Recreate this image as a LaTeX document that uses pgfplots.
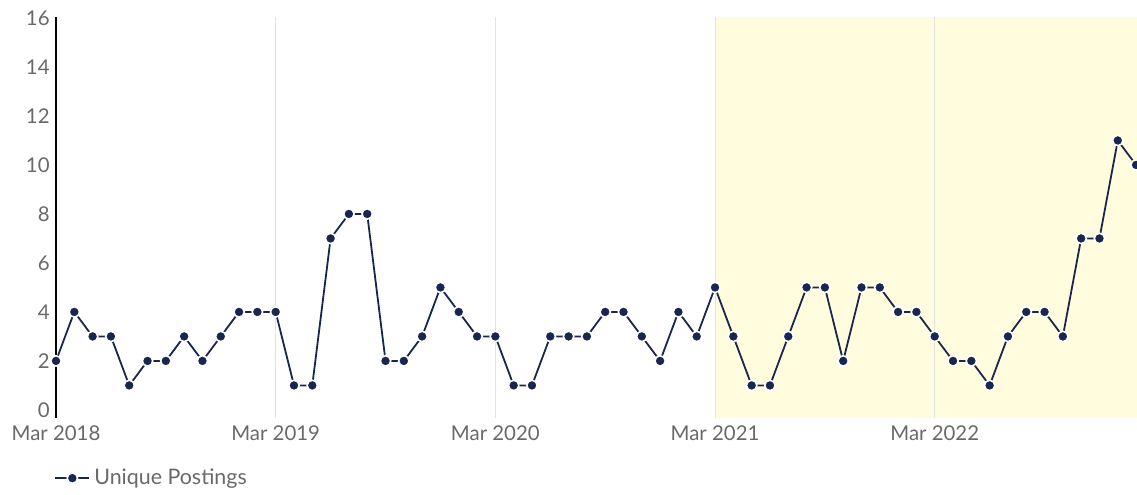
\documentclass[border=0pt]{standalone}
\usepackage{pgfplots}
\pgfplotsset{compat=1.18}
\usepackage{fontspec}
\setmainfont{Lato}
\definecolor{navy}{RGB}{24,38,80}
\definecolor{ticktext}{RGB}{105,105,105}
\definecolor{hl}{RGB}{255,253,222}
\definecolor{gridc}{RGB}{226,226,226}
\begin{document}
\begin{tikzpicture}
\begin{axis}[
  set layers,
  at={(0,0)}, anchor=south west,
  scale only axis,
  width=540.5pt, height=200.5pt,
  xmin=0, xmax=59.05, ymin=-0.33, ymax=16.04,
  axis lines*=left,
  x axis line style={draw=none},
  y axis line style={draw=black, line width=0.8pt},
  major tick length=0pt,
  xtick={0,12,24,36,48},
  xticklabels={Mar 2018,Mar 2019,Mar 2020,Mar 2021,Mar 2022},
  ytick={0,2,...,16},
  xmajorgrids,
  major grid style={draw=gridc, line width=0.5pt},
  /pgf/number format/assume math mode=true,
  tick label style={font=\fontsize{10.2}{12}\selectfont, text=ticktext},
  xticklabel style={inner sep=0pt, yshift=-3.5pt},
  yticklabel style={inner sep=0pt, xshift=-3pt},
  clip=true,
  legend style={at={(0,-0.15)}, anchor=west, draw=none, fill=none, inner sep=0pt,
    font=\fontsize{10.7}{12}\selectfont, text=ticktext, xshift=-1pt},
  legend cell align=left,
]
\addplot[fill=hl, draw=none, on layer=axis background, forget plot]
  coordinates {(36,-0.33) (36,16.04) (59.05,16.04) (59.05,-0.33)} -- cycle;
\addplot[navy, line width=0.9pt, mark=*, mark size=2.6pt,
  mark options={fill=navy, draw=white, line width=0.8pt}]
  table[x=i, y=v] {
i v
0 2
1 4
2 3
3 3
4 1
5 2
6 2
7 3
8 2
9 3
10 4
11 4
12 4
13 1
14 1
15 7
16 8
17 8
18 2
19 2
20 3
21 5
22 4
23 3
24 3
25 1
26 1
27 3
28 3
29 3
30 4
31 4
32 3
33 2
34 4
35 3
36 5
37 3
38 1
39 1
40 3
41 5
42 5
43 2
44 5
45 5
46 4
47 4
48 3
49 2
50 2
51 1
52 3
53 4
54 4
55 3
56 7
57 7
58 11
59 10
};
\addlegendentry{Unique Postings}
\end{axis}
\pgfresetboundingbox
\path[use as bounding box] (-28pt,-38pt) rectangle (540.5pt,209pt);
\end{tikzpicture}
\end{document}
